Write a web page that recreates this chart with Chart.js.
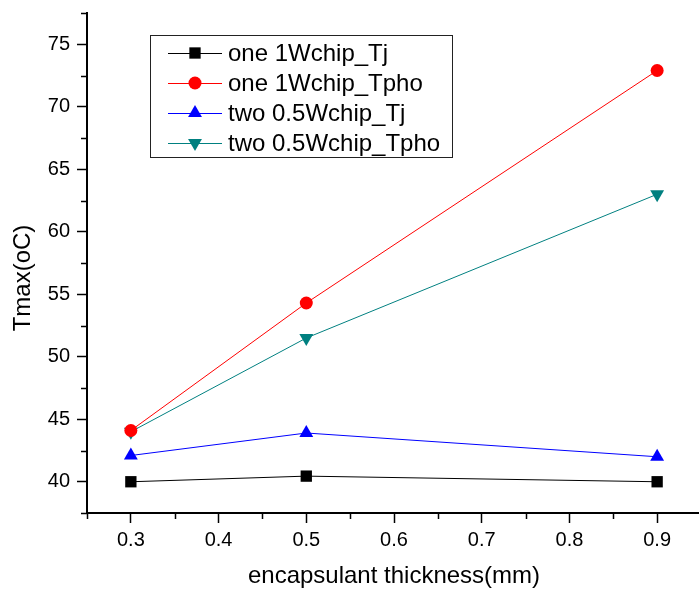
<!DOCTYPE html>
<html><head><meta charset="utf-8">
<script src="https://cdn.jsdelivr.net/npm/chart.js@4/dist/chart.umd.min.js"></script>
<style>html,body{margin:0;padding:0;background:#fff;overflow:hidden}#wrap{width:709px;height:591px}</style>
</head><body><div id="wrap"><canvas id="c" width="709" height="591"></canvas></div>
<script>
const xValues = [0.3, 0.5, 0.9];
const oneTj = [40.0, 40.45, 40.0];
const oneTpho = [44.1, 54.3, 72.9];
const twoTj = [42.1, 43.9, 42.0];
const twoTpho = [44.0, 51.5, 63.0];
const seriesLabels = ['one 1Wchip_Tj', 'one 1Wchip_Tpho', 'two 0.5Wchip_Tj', 'two 0.5Wchip_Tpho'];
const xTicks = [0.3, 0.4, 0.5, 0.6, 0.7, 0.8, 0.9];
const xMinor = [0.25, 0.35, 0.45, 0.55, 0.65, 0.75, 0.85, 0.95];
const yTicks = [40, 45, 50, 55, 60, 65, 70, 75];
const yMinor = [37.5, 42.5, 47.5, 52.5, 57.5, 62.5, 67.5, 72.5, 77.5];
const xTitle = 'encapsulant thickness(mm)';
const yTitle = 'Tmax(oC)';

const FONT = '"Liberation Sans", Arial, sans-serif';
const pts = arr => arr.map((v, i) => ({x: xValues[i], y: v}));

const minorTicks = {
  id: 'minorTicks',
  afterDraw(chart) {
    const ctx = chart.ctx, xs = chart.scales.x, ys = chart.scales.y;
    const a = chart.chartArea;
    ctx.save();
    ctx.strokeStyle = '#000'; ctx.lineWidth = 1.5;
    ctx.beginPath();
    xMinor.forEach(v => { const px = Math.round(xs.getPixelForValue(v)) + 0.5; ctx.moveTo(px, a.bottom); ctx.lineTo(px, a.bottom + 6); });
    yMinor.forEach(v => { const py = Math.round(ys.getPixelForValue(v)) + 0.5; ctx.moveTo(a.left, py); ctx.lineTo(a.left - 6, py); });
    ctx.stroke();
    ctx.fillStyle = '#000';
    ctx.font = '24px ' + FONT;
    ctx.textAlign = 'center'; ctx.textBaseline = 'middle';
    ctx.translate(23, 278); ctx.rotate(-Math.PI / 2);
    ctx.fillText(yTitle, 0, 0);
    ctx.restore();
  }
};

const legendBox = {
  id: 'legendBox',
  afterDraw(chart) {
    const ctx = chart.ctx;
    ctx.save();
    ctx.fillStyle = '#fff';
    ctx.fillRect(150.5, 35.5, 302, 122);
    ctx.strokeStyle = '#222'; ctx.lineWidth = 1;
    ctx.strokeRect(150.5, 35.5, 302, 122);
    chart.data.datasets.forEach((ds, i) => {
      const y = 53 + i * 30;
      ctx.strokeStyle = ds.borderColor; ctx.lineWidth = 1;
      ctx.beginPath(); ctx.moveTo(168, y + 0.5); ctx.lineTo(222, y + 0.5); ctx.stroke();
      ctx.fillStyle = ds.pointBackgroundColor;
      ctx.strokeStyle = ds.pointBorderColor;
      ctx.lineWidth = 0.01;
      Chart.helpers.drawPoint(ctx, {pointStyle: ds.pointStyle, rotation: ds.pointRotation || 0, radius: ds.pointRadius, borderWidth: 0.01}, 195, y);
      ctx.fillStyle = '#000';
      ctx.font = '24px ' + FONT;
      ctx.textAlign = 'left'; ctx.textBaseline = 'middle';
      ctx.fillText(ds.label, 228, y + 1);
    });
    ctx.restore();
  }
};

function mk(label, data, color, style, radius, rot) {
  return {label, data: pts(data), borderColor: color, backgroundColor: color,
    pointBackgroundColor: color, pointBorderColor: color, pointBorderWidth: 0,
    borderWidth: 1, pointStyle: style, pointRadius: radius, pointHoverRadius: radius,
    pointRotation: rot || 0, tension: 0, showLine: true};
}

new Chart(document.getElementById('c'), {
  type: 'scatter',
  data: {datasets: [
    mk(seriesLabels[0], oneTj, '#000000', 'rect', 8),
    mk(seriesLabels[1], oneTpho, '#ff0000', 'circle', 6.5),
    mk(seriesLabels[2], twoTj, '#0000ff', 'triangle', 8),
    mk(seriesLabels[3], twoTpho, '#008080', 'triangle', 8, 180)
  ]},
  options: {
    responsive: false, animation: false, devicePixelRatio: 1,
    layout: {padding: {top: 13, right: 0, left: 0, bottom: 0}},
    plugins: {legend: {display: false}, tooltip: {enabled: false}},
    scales: {
      x: {type: 'linear', min: 0.25, max: 0.95,
        afterBuildTicks: s => { s.ticks = xTicks.map(v => ({value: v})); },
        afterFit: s => { s.height = 78; s.paddingLeft = 0; s.paddingRight = 0; },
        border: {display: true, color: '#000', width: 2},
        grid: {drawOnChartArea: false, drawTicks: true, tickLength: 10, tickColor: '#000', tickWidth: 1.5},
        ticks: {color: '#000', font: {family: FONT, size: 20}, padding: 5, maxRotation: 0,
          callback: v => v.toFixed(1)},
        title: {display: true, text: xTitle, color: '#000', font: {family: FONT, size: 24}, padding: {top: 12, bottom: 0}}
      },
      y: {type: 'linear', min: 37.5, max: 77.5,
        afterBuildTicks: s => { s.ticks = yTicks.map(v => ({value: v})); },
        afterFit: s => { s.width = 87; s.paddingTop = 0; s.paddingBottom = 0; },
        border: {display: true, color: '#000', width: 2},
        grid: {drawOnChartArea: false, drawTicks: true, tickLength: 10, tickColor: '#000', tickWidth: 1.5},
        ticks: {color: '#000', font: {family: FONT, size: 20}, padding: 7, callback: v => String(v)}
      }
    }
  },
  plugins: [minorTicks, legendBox]
});
</script></body></html>
